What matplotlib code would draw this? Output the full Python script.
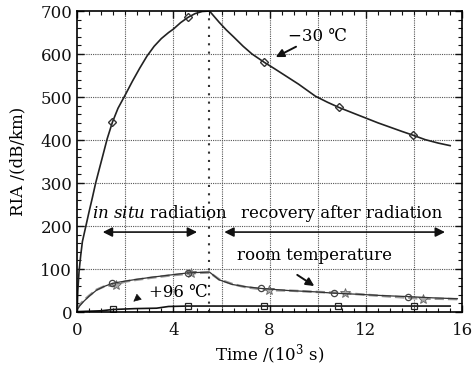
import matplotlib
matplotlib.use("Agg")
import matplotlib.pyplot as plt
from matplotlib.ticker import MultipleLocator

plt.rcParams['font.family'] = ['DejaVu Serif', 'DejaVu Sans']
plt.rcParams['mathtext.fontset'] = 'dejavuserif'

# -30 C curve
cold_t = [0, 0.03, 0.08, 0.15, 0.22, 0.36, 0.5, 0.63, 0.77, 0.9, 1.05, 1.25, 1.47, 1.7, 2.0, 2.3, 2.6,
          2.9, 3.2, 3.5, 3.8, 4.0, 4.3, 4.6, 4.9, 5.2, 5.5,
          5.7, 5.9, 6.2, 6.5, 6.9, 7.27, 7.77, 8.2, 8.7, 9.2, 9.9, 10.4, 10.87, 11.5, 12.0, 12.5, 13.0,
          13.5, 13.97, 14.46, 15.0, 15.5]
cold_v = [0, 50, 94, 132, 164, 199, 234, 265, 300, 328, 360, 403, 442, 474, 505, 537, 567,
          595, 618, 636, 650, 658, 673, 685, 694, 699, 700,
          687, 674, 656, 640, 618, 600, 581, 566, 548, 530, 502, 488, 476, 462, 451, 440, 430,
          420, 411, 401, 393, 387]
cold_mk_t = [1.47, 4.6, 7.77, 10.87, 13.97]
cold_mk_v = [442, 685, 581, 476, 411]

# room temperature (solid, circles)
room_t = [0, 0.1, 0.26, 0.5, 0.81, 1.1, 1.47, 2.0, 2.46, 3.1, 3.84, 4.6, 5.0, 5.5, 5.7, 5.9, 6.46,
          7.0, 7.63, 8.8, 9.9, 10.66, 11.8, 12.8, 13.76, 14.8, 15.8]
room_v = [5, 14, 24, 37, 51, 59, 67, 72, 76, 81, 86, 91, 92, 93, 84, 75, 64,
          59, 55, 50, 47, 44, 41, 38, 36, 33, 31]
room_mk_t = [1.47, 4.6, 7.63, 10.66, 13.76]
room_mk_v = [67, 91, 55, 44, 36]

# room temperature (gray dashed, stars)
room2_t = [0, 0.1, 0.26, 0.5, 0.81, 1.1, 1.6, 2.0, 2.46, 3.1, 3.84, 4.75, 5.0, 5.5, 5.7, 5.9, 6.46,
           7.0, 7.97, 8.8, 9.9, 11.14, 11.8, 12.8, 14.38, 15.0, 15.8]
room2_v = [8, 16, 26, 38, 52, 59, 64, 71, 75, 80, 85, 90, 91, 92, 84, 76, 65,
           58, 51, 50, 47, 44, 41, 37, 31, 31, 30]
room2_mk_t = [1.6, 4.75, 7.97, 11.14, 14.38]
room2_mk_v = [64, 90, 51, 44, 31]

# +96 C curve
hot_t = [0, 1.0, 1.5, 2.4, 3.3, 3.8, 4.6, 5.5, 8.0, 12.0, 15.5]
hot_v = [1, 3, 6, 8, 9, 13, 14, 14, 14, 14, 14]
hot_mk_t = [1.5, 4.6, 7.77, 10.83, 14.0]
hot_mk_v = [6, 14, 14, 14, 14]

fig = plt.figure(figsize=(4.76, 3.68), dpi=100)
ax = fig.add_axes([0.162, 0.152, 0.809, 0.818])

ax.plot(cold_t, cold_v, color='#222222', lw=1.2)
ax.plot(cold_mk_t, cold_mk_v, ls='none', marker='D', ms=4, mfc='none', mec='#333333', mew=1.0)

ax.plot(room2_t, room2_v, color='#999999', lw=1.8, ls='--')
ax.plot(room2_mk_t, room2_mk_v, ls='none', marker='*', ms=7, mfc='#aaaaaa', mec='#666666', mew=0.6)
ax.plot(room_t, room_v, color='#333333', lw=0.9)
ax.plot(room_mk_t, room_mk_v, ls='none', marker='o', ms=4.5, mfc='none', mec='#444444', mew=0.9)

ax.plot(hot_t, hot_v, color='#111111', lw=1.2)
ax.plot(hot_mk_t, hot_mk_v, ls='none', marker='s', ms=5, mfc='none', mec='#222222', mew=0.9)

ax.axvline(5.5, color='#333333', ls=(0, (1, 3)), lw=1.5)

ax.set_xlim(0, 16)
ax.set_ylim(0, 700)
ax.xaxis.set_major_locator(MultipleLocator(4))
ax.xaxis.set_minor_locator(MultipleLocator(0.5))
ax.yaxis.set_major_locator(MultipleLocator(100))
ax.yaxis.set_minor_locator(MultipleLocator(20))
for x in range(2, 16, 2):
    ax.axvline(x, color='#555555', ls=(0, (1, 1)), lw=0.8, zorder=0)
for y in range(100, 700, 100):
    ax.axhline(y, color='#555555', ls=(0, (1, 1)), lw=0.8, zorder=0)
ax.tick_params(which='both', direction='in', top=True, right=True, labelsize=12, colors='#111111')
ax.tick_params(which='major', length=5, width=1)
ax.tick_params(which='minor', length=3, width=0.8)
ax.tick_params(axis='x', which='major', pad=7)
for s in ax.spines.values():
    s.set_linewidth(1.2)
ax.set_xlabel('Time /(10$^3$ s)', fontsize=12, labelpad=3)
ax.set_ylabel('RIA /(dB/km)', fontsize=12, labelpad=10)

ax.text(0.6, 230, r'$\mathit{in\ situ}$ radiation', fontsize=12, va='center', ha='left')
ax.text(11.0, 230, 'recovery after radiation', fontsize=12, va='center', ha='center')
ax.annotate('', xy=(0.95, 186), xytext=(5.1, 186),
            arrowprops=dict(arrowstyle='<|-|>', color='#111111', lw=1.2, mutation_scale=14))
ax.annotate('', xy=(6.0, 186), xytext=(15.4, 186),
            arrowprops=dict(arrowstyle='<|-|>', color='#111111', lw=1.2, mutation_scale=14))

ax.text(10.0, 640, '−30 ℃', fontsize=12, va='center', ha='center')
ax.annotate('', xy=(8.15, 590), xytext=(9.2, 620),
            arrowprops=dict(arrowstyle='-|>', color='#111111', lw=1.4, mutation_scale=12))
ax.text(9.85, 131, 'room temperature', fontsize=12, va='center', ha='center')
ax.annotate('', xy=(9.95, 57), xytext=(9.05, 90),
            arrowprops=dict(arrowstyle='-|>', color='#111111', lw=1.4, mutation_scale=12))
ax.text(4.2, 45, '+96 ℃', fontsize=12, va='center', ha='center')
ax.annotate('', xy=(2.25, 20), xytext=(2.5, 32),
            arrowprops=dict(arrowstyle='-|>', color='#111111', lw=0.5, mutation_scale=12))

fig.savefig('out.png', dpi=100, facecolor='white')
